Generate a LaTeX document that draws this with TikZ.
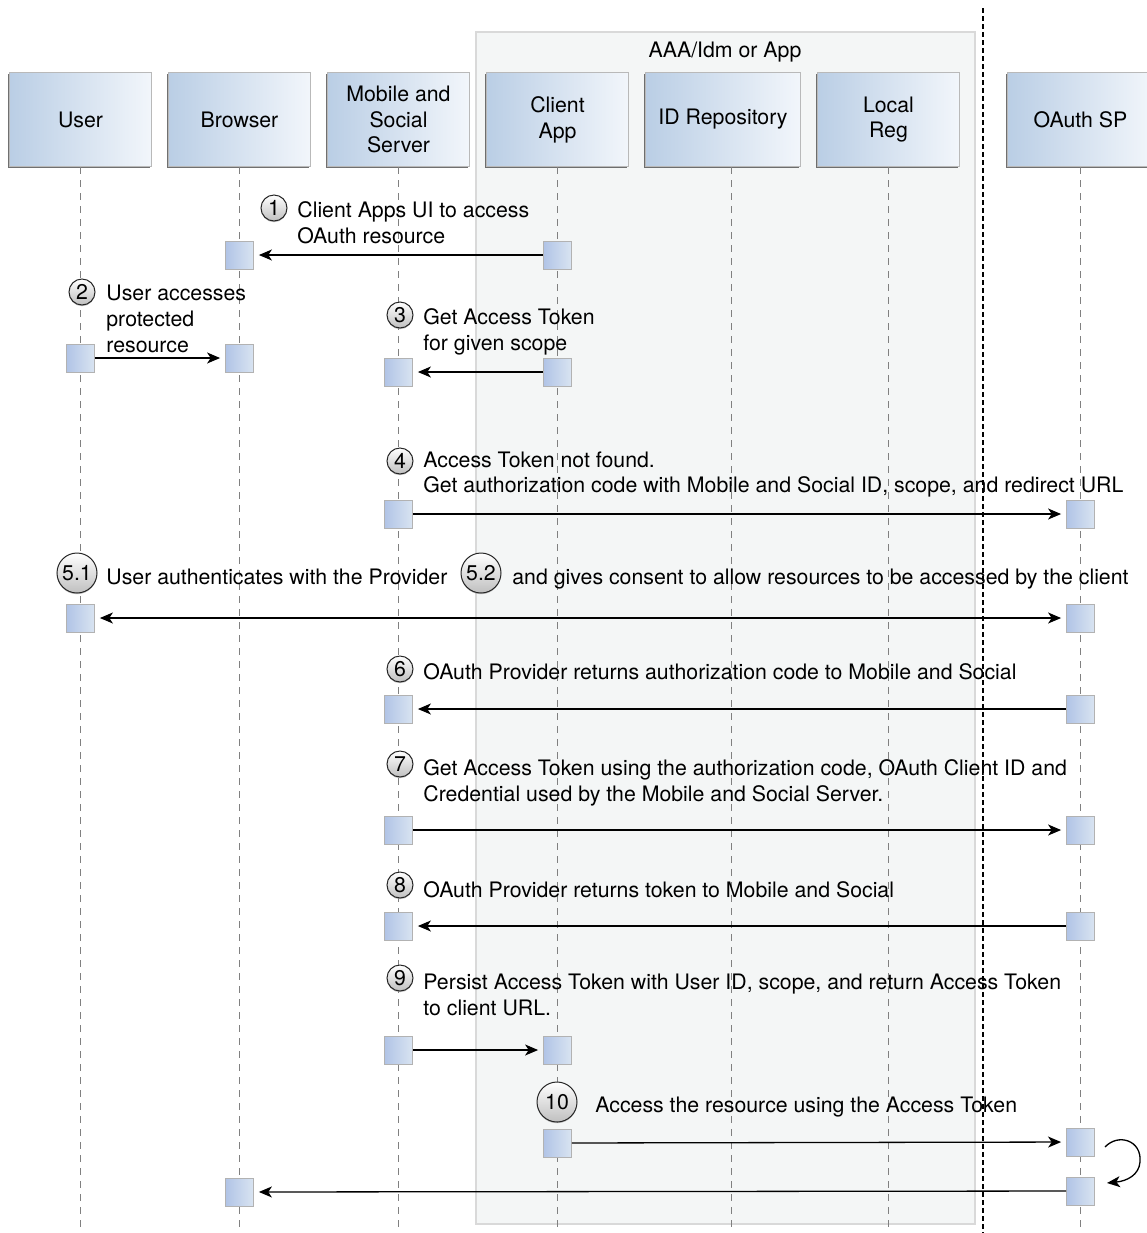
\documentclass[tikz,border=0pt]{standalone}
\usepackage{fontspec}
\setmainfont{TeX Gyre Heros}
\usepackage{xcolor}
\usepackage{tikz}
\usetikzlibrary{arrows.meta, positioning, shadows}

\definecolor{hdDark}{RGB}{186,206,229}
\definecolor{hdLight}{RGB}{242,246,251}
\definecolor{grpFill}{RGB}{244,246,246}

\begin{document}
\begin{tikzpicture}[
  x=0.5pt, y=-0.5pt,
  node distance=8pt,
  font=\fontsize{10.65}{12.9}\selectfont,
  >={Stealth[length=6.5pt, width=5.5pt, inset=1.8pt]},
  head/.style={rectangle, draw=gray!55, line width=0.5pt, left color=hdDark, right color=hdLight, minimum width=71pt, minimum height=47pt, align=center, inner sep=2pt, drop shadow={shadow xshift=-0.7pt, shadow yshift=-0.7pt, fill=black!70, opacity=0.8}},
  act/.style={rectangle, draw=gray!60, line width=0.4pt, left color=hdDark!95!blue, right color=hdDark!45!hdLight, minimum size=14pt, inner sep=0pt, drop shadow={shadow xshift=-0.5pt, shadow yshift=-0.5pt, fill=black!60, opacity=0.7}},
  num/.style={circle, draw=gray!30!black, line width=0.5pt, top color=white, bottom color=gray!50, minimum size=13pt, inner sep=0pt, drop shadow={shadow xshift=0pt, shadow yshift=-0.6pt, fill=black!40, opacity=0.6}},
  bignum/.style={num, minimum size=20pt},
  msg/.style={anchor=north west, inner sep=0pt, align=left},
  grp/.style={rectangle, draw=gray!30, line width=0.8pt, fill=grpFill, anchor=north west, minimum width=249.5pt, minimum height=596pt},
  life/.style={gray, line width=0.4pt, dash pattern=on 3.5pt off 3pt},
  sep/.style={black, line width=0.6pt, dash pattern=on 2.5pt off 1.5pt},
  arr/.style={->, line width=0.65pt, shorten >=2.5pt},
  dbl/.style={<->, line width=0.65pt, shorten >=2.5pt, shorten <=2.5pt},
]
\useasboundingbox (0,0) rectangle (1147,1233);
\clip (0,0) rectangle (1147,1233);

% AAA/Idm group
\node[grp] (aaa) at (475,31) {};
\node (aaalbl) at (725,52) {AAA/Idm or App};

% separator
\coordinate (sepTop) at (983,8);
\coordinate (sepBot) at (983,1233);
\draw[sep] (sepTop) -- (sepBot);

% participants
\node[head] (user) at (80.5,119.5) {User};
\node[head, right=of user] (browser) {Browser};
\node[head, right=of browser] (mobile) {Mobile and\\Social\\Server};
\node[head, right=of mobile] (client) {Client\\App};
\node[head, right=of client, minimum width=77.5pt] (idrep) {ID Repository};
\node[head, right=of idrep] (local) {Local\\Reg};
\node[head, right=23.5pt of local, minimum width=73pt] (oauth) {OAuth SP};

% lifelines
\coordinate (bot) at (0,1233);
\draw[life] (user.south) -- (user.south |- bot);
\draw[life] (browser.south) -- (browser.south |- bot);
\draw[life] (mobile.south) -- (mobile.south |- bot);
\draw[life] (client.south) -- (client.south |- bot);
\draw[life] ([xshift=4pt]idrep.south) -- ([xshift=4pt]idrep.south |- bot);
\draw[life] (local.south) -- (local.south |- bot);
\draw[life] (oauth.south) -- (oauth.south |- bot);

% Step 1
\node[num] (n1) at (274,208) {1};
\node[msg] (t1) at (297,201) {Client Apps UI to access\\OAuth resource};
\node[act] (b1) at (browser |- 0,255) {};
\node[act] (c1) at (client |- 0,255) {};
\draw[arr] (c1) -- (b1);

% Step 2
\node[num] (n2) at (82,292) {2};
\node[msg] (t2) at (106,285) {User accesses\\protected\\resource};
\node[act] (u2) at (user |- 0,358) {};
\node[act] (b2) at (browser |- 0,358) {};
\draw[arr] (u2) -- (b2);

% Step 3
\node[num] (n3) at (400,315) {3};
\node[msg] (t3) at (423,308) {Get Access Token\\for given scope};
\node[act] (m3) at (mobile |- 0,372) {};
\node[act] (c3) at (client |- 0,372) {};
\draw[arr] (c3) -- (m3);

% Step 4
\node[num] (n4) at (400,461) {4};
\node[msg] (t4) at (423,451) {Access Token not found.\\Get authorization code with Mobile and Social ID, scope, and redirect URL};
\node[act] (m4) at (mobile |- 0,514) {};
\node[act] (o4) at (oauth |- 0,514) {};
\draw[arr] (m4) -- (o4);

% Step 5
\node[bignum] (n51) at (77,573) {5.1};
\node[msg] (t51) at (106,569) {User authenticates with the Provider};
\node[bignum] (n52) at (481,573) {5.2};
\node[msg] (t52) at (512,569) {and gives consent to allow resources to be accessed by the client};
\node[act] (u5) at (user |- 0,618) {};
\node[act] (o5) at (oauth |- 0,618) {};
\draw[dbl] (u5) -- (o5);

% Step 6
\node[num] (n6) at (400,669) {6};
\node[msg] (t6) at (423,663) {OAuth Provider returns authorization code to Mobile and Social};
\node[act] (m6) at (mobile |- 0,709) {};
\node[act] (o6) at (oauth |- 0,709) {};
\draw[arr] (o6) -- (m6);

% Step 7
\node[num] (n7) at (400,764) {7};
\node[msg] (t7) at (423,759) {Get Access Token using the authorization code, OAuth Client ID and\\Credential used by the Mobile and Social Server.};
\node[act] (m7) at (mobile |- 0,830) {};
\node[act] (o7) at (oauth |- 0,830) {};
\draw[arr] (m7) -- (o7);

% Step 8
\node[num] (n8) at (400,885) {8};
\node[msg] (t8) at (423,881) {OAuth Provider returns token to Mobile and Social};
\node[act] (m8) at (mobile |- 0,926) {};
\node[act] (o8) at (oauth |- 0,926) {};
\draw[arr] (o8) -- (m8);

% Step 9
\node[num] (n9) at (400,978) {9};
\node[msg] (t9) at (423,974) {Persist Access Token with User ID, scope, and return Access Token\\to client URL.};
\node[act] (m9) at (mobile |- 0,1050) {};
\node[act] (c9) at (client |- 0,1050) {};
\draw[arr] (m9) -- (c9);

% Step 10
\node[bignum] (n10) at (557,1102) {10};
\node[msg] (t10) at (595,1097) {Access the resource using the Access Token};
\node[act] (c10) at (client |- 0,1143) {};
\node[act] (o10) at (oauth |- 0,1142) {};
\draw[arr] (c10) -- (o10);

% response to browser
\node[act] (o11) at (oauth |- 0,1191) {};
\node[act] (b11) at (browser |- 0,1192) {};
\draw[arr] (o11) -- (b11);
\coordinate (loopS) at (1105,1147);
\coordinate (loopE) at (1107,1183);
\draw[->, line width=0.65pt] (loopS) .. controls (1118,1133) and (1142,1140) .. (1140,1162) .. controls (1139,1175) and (1127,1181) .. (loopE);

\end{tikzpicture}
\end{document}
